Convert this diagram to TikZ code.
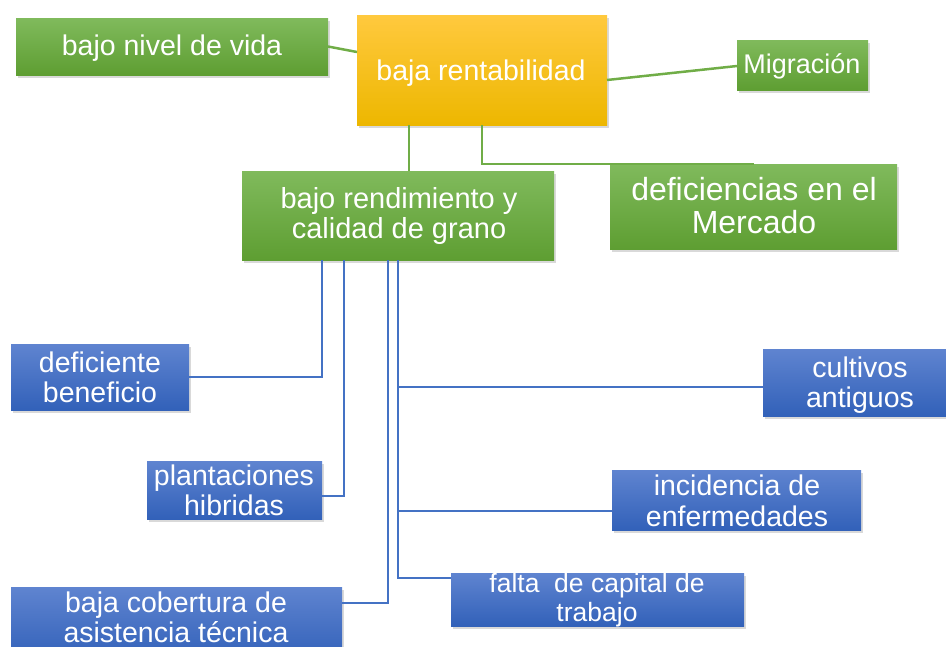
\documentclass[tikz,border=0pt]{standalone}
\usepackage{fontspec}
\setmainfont{Liberation Sans}
\usetikzlibrary{shadows}
\definecolor{gtop}{HTML}{80BA5C}
\definecolor{gbot}{HTML}{5E9E32}
\definecolor{btop}{HTML}{5F84D0}
\definecolor{bbot}{HTML}{3261B9}
\definecolor{otop}{HTML}{FFC93E}
\definecolor{obot}{HTML}{EDB700}
\definecolor{gline}{HTML}{70AD47}
\definecolor{bline}{HTML}{4472C4}
\begin{document}
\begin{tikzpicture}[x=1pt,y=-1pt,
  box/.style={inner sep=0pt, outer sep=0pt,
    drop shadow={opacity=0.3, shadow xshift=1.5pt, shadow yshift=-3pt}},
  gbox/.style={box, top color=gtop, bottom color=gbot},
  bbox/.style={box, top color=btop, bottom color=bbot},
  obox/.style={box, top color=otop, bottom color=obot},
  txt/.style={text=white, inner sep=0pt, align=center, anchor=north,
    font=\fontsize{28.5}{30}\selectfont},
  txtone/.style={txt, anchor=base},
  gcon/.style={draw=gline, line width=2.5pt},
  bcon/.style={draw=bline, line width=2.3pt}]
\useasboundingbox (0,0) rectangle (946,646);

% boxes
\node[gbox, minimum width=312pt, minimum height=57pt] (vida) at (172,46.5) {};
\node[obox, minimum width=250pt, minimum height=110pt] (rent) at (482,70) {};
\node[gbox, minimum width=131pt, minimum height=50pt] (mig) at (802.5,65) {};
\node[gbox, minimum width=312pt, minimum height=89pt] (rend) at (398,215.5) {};
\node[gbox, minimum width=287pt, minimum height=85pt] (merc) at (753.5,206.5) {};
\node[bbox, minimum width=178pt, minimum height=66pt] (benef) at (100,377) {};
\node[bbox, minimum width=183pt, minimum height=67pt] (cult) at (854.5,382.5) {};
\node[bbox, minimum width=175pt, minimum height=58pt] (plant) at (234.5,490) {};
\node[bbox, minimum width=249pt, minimum height=60pt] (inc) at (736.5,500) {};
\node[bbox, minimum width=293pt, minimum height=53pt] (falta) at (597.5,599.5) {};
\node[bbox, minimum width=331pt, minimum height=73pt] (cob) at (176.5,623.5) {};

% connectors
\draw[gcon] (vida.east) -- (rent.west |- 0,52);
\draw[gcon] (rent.east |- 0,80) -- (mig.west |- 0,66);
\draw[gcon] (rent.south -| 409,0) -- (rend.north -| 409,0);
\draw[gcon] (rent.south -| 482,0) |- (merc.north);

\draw[bcon] (rend.south -| 322,0) |- (benef.east);
\draw[bcon] (rend.south -| 344,0) |- (plant.east |- 0,496);
\draw[bcon] (rend.south -| 388,0) |- (cob.east |- 0,603);
\draw[bcon] (rend.south -| 398,0) |- (cult.west |- 0,387);
\draw[bcon] (rend.south -| 398,0) |- (inc.west |- 0,511);
\draw[bcon] (rend.south -| 398,0) |- (falta.west |- 0,578);

% texts
\node[txtone] (tvida) at (172,55) {bajo nivel de vida};
\node[txtone] (trent) at (481,80) {baja rentabilidad};
\node[txtone, font=\fontsize{27}{29}\selectfont] (tmig) at (802,73) {Migración};
\node[txt, font=\fontsize{29}{30}\selectfont] (trend) at (399,187) {bajo rendimiento y\\calidad de grano};
\node[txt, font=\fontsize{32}{33}\selectfont] (tmerc) at (754,177) {deficiencias en el\\Mercado};
\node[txt] (tbenef) at (100,351.5) {deficiente\\beneficio};
\node[txt] (tcult) at (860,356.5) {cultivos\\antiguos};
\node[txt] (tplant) at (234,464.5) {plantaciones\\hibridas};
\node[txt, font=\fontsize{28.5}{31}\selectfont] (tinc) at (737,474.5) {incidencia de\\enfermedades};
\node[txt, font=\fontsize{26.5}{29}\selectfont] (tfalta) at (597,573.5) {falta\ \ de capital de\\trabajo};
\node[txt] (tcob) at (176,591.5) {baja cobertura de\\asistencia técnica};
\end{tikzpicture}
\end{document}
